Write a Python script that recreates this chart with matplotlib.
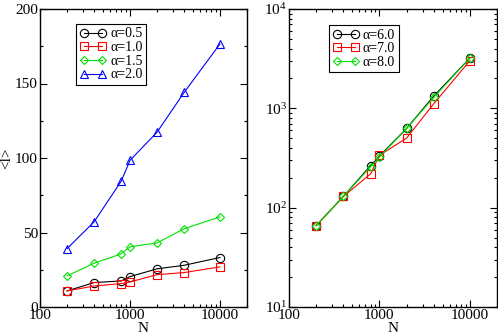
import numpy as np
import matplotlib
matplotlib.use("Agg")
import matplotlib.pyplot as plt
from matplotlib.ticker import MultipleLocator, LogLocator, FixedLocator, NullFormatter

# data
N = [200, 400, 800, 1000, 2000, 4000, 10000]

left_labels = ["α=0.5", "α=1.0", "α=1.5", "α=2.0"]
l_a05 = [10.8, 16.4, 17.5, 20.4, 25.6, 28.0, 33.2]
l_a10 = [10.8, 14.1, 15.7, 16.8, 21.7, 23.1, 26.9]
l_a15 = [20.9, 29.4, 35.7, 40.4, 43.0, 52.5, 60.5]
l_a20 = [39.2, 57.2, 84.5, 98.4, 117.3, 144.0, 176.5]

right_labels = ["α=6.0", "α=7.0", "α=8.0"]
l_a60 = [66, 130, 265, 330, 628, 1331, 3200]
l_a70 = [66, 130, 219, 336, 502, 1114, 3010]
l_a80 = [66, 130, 258, 323, 628, 1290, 3200]

colors = ["black", "red", "#00e000", "blue"]
markers = ["o", "s", "D", "^"]
msizes = [6, 5.5, 4.5, 6]

plt.rcParams['font.family'] = ['Liberation Serif', 'DejaVu Serif']
plt.rcParams['mathtext.fontset'] = 'stix'
fs = 11
lfs = 10

fig = plt.figure(figsize=(4.98, 3.36), dpi=100)
h = 298 / 336
b = 29 / 336
ax1 = fig.add_axes([40 / 498, b, 207 / 498, h])
ax2 = fig.add_axes([289 / 498, b, 208 / 498, h])


def style_axes(ax):
    ax.set_xscale('log')
    ax.set_xlim(100, 20000)
    ax.xaxis.set_major_locator(FixedLocator([100, 1000, 10000]))
    ax.xaxis.set_minor_locator(LogLocator(base=10, subs=np.arange(2, 10)))
    ax.xaxis.set_minor_formatter(NullFormatter())
    ax.set_xticklabels(["100", "1000", "10000"])
    ax.tick_params(which='both', direction='in', top=True, right=True,
                   labelsize=fs, width=0.8, pad=1.5)
    ax.tick_params(which='major', length=5)
    ax.tick_params(which='minor', length=2.5)
    for s in ax.spines.values():
        s.set_linewidth(1.0)
    ax.set_xlabel("N", fontsize=fs, labelpad=0)


def add_legend(ax, x0, y0):
    leg = ax.legend(loc='upper left', bbox_to_anchor=(x0, y0), borderaxespad=0,
                    fontsize=lfs, numpoints=2, handlelength=1.9, labelspacing=0.05,
                    handletextpad=0.3, borderpad=0.25, fancybox=False, framealpha=1,
                    edgecolor='black')
    leg.get_frame().set_linewidth(0.8)


# left panel
for ys, lab, c, m, ms in zip([l_a05, l_a10, l_a15, l_a20], left_labels, colors, markers, msizes):
    ax1.plot(N, ys, color=c, marker=m, ms=ms, mfc='none', mec=c, mew=0.8, lw=0.8, label=lab)
style_axes(ax1)
ax1.set_ylim(0, 200)
ax1.yaxis.set_major_locator(MultipleLocator(50))
ax1.yaxis.set_minor_locator(MultipleLocator(25))
ax1.set_ylabel("<l>", fontsize=fs, labelpad=1)
add_legend(ax1, 0.174, 0.95)

# right panel
for ys, lab, c, m, ms in zip([l_a60, l_a70, l_a80], right_labels, colors[:3], markers[:3], msizes[:3]):
    ax2.plot(N, ys, color=c, marker=m, ms=ms, mfc='none', mec=c, mew=0.8, lw=0.8, label=lab)
style_axes(ax2)
ax2.set_yscale('log')
ax2.set_ylim(10, 10000)
ax2.yaxis.set_major_locator(LogLocator(base=10))
ax2.yaxis.set_minor_locator(LogLocator(base=10, subs=np.arange(2, 10)))
ax2.yaxis.set_minor_formatter(NullFormatter())
add_legend(ax2, 0.192, 0.946)

fig.savefig("out.png", dpi=100)
